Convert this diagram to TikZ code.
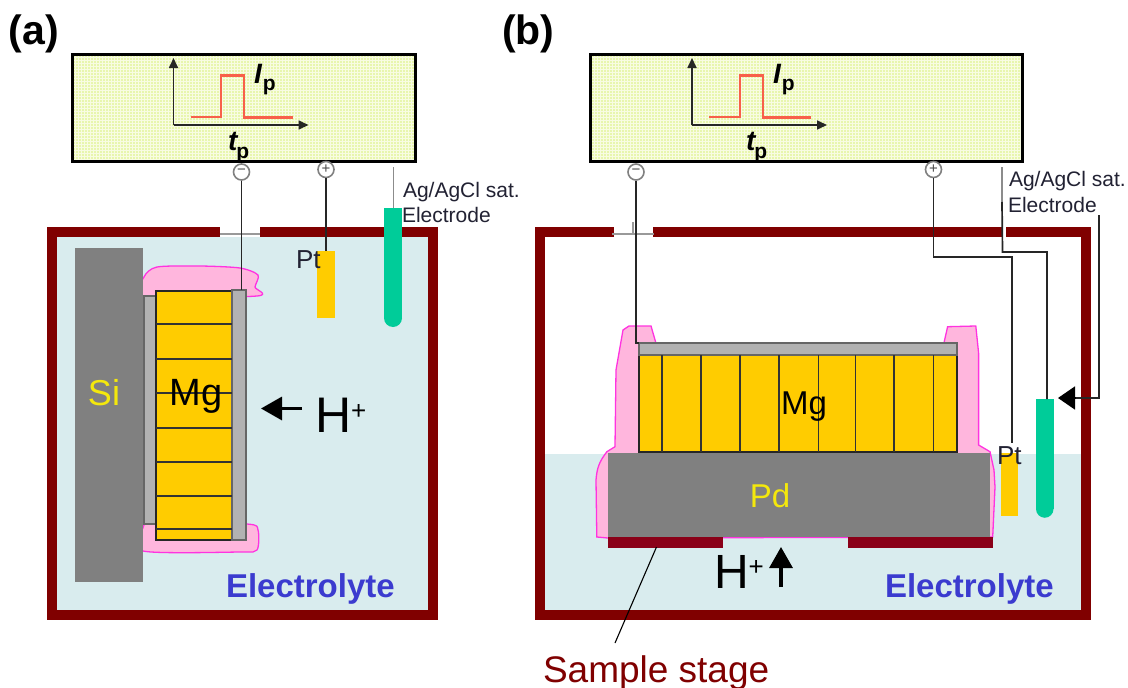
\documentclass[tikz,border=0pt]{standalone}
\usepackage{fontspec}
\setmainfont{Liberation Sans}
\usetikzlibrary{arrows.meta,calc}
\definecolor{frame}{HTML}{800000}
\definecolor{stagec}{HTML}{8A0018}
\definecolor{liquid}{HTML}{D9ECEE}
\definecolor{panel}{HTML}{E8F6AE}
\definecolor{mesh}{HTML}{F8FCE2}
\definecolor{gold}{HTML}{FFCC00}
\definecolor{greenc}{HTML}{00CC99}
\definecolor{solid}{HTML}{808080}
\definecolor{layer}{HTML}{B2B2B2}
\definecolor{pinkf}{HTML}{FFB6DD}
\definecolor{pinkl}{HTML}{FF33E0}
\definecolor{pulse}{HTML}{F8604A}
\definecolor{elec}{HTML}{3B3BCF}
\definecolor{ink}{HTML}{222233}
\newcommand\fsz[1]{\fontsize{#1}{#1}\selectfont}
\newcommand\rectnode[6]{%
  \pgfmathsetmacro\wdd{#5-#3}\pgfmathsetmacro\htt{#6-#4}%
  \node[#1,inner sep=0pt,outer sep=0pt,minimum width=\wdd pt,minimum height=\htt pt,anchor=north west] (#2) at (#3,#4) {};}
\tikzset{
  vessel/.style={draw=frame,line width=10pt,line join=miter,line cap=butt},
  liquidbox/.style={fill=liquid},
  panelbox/.style={fill=panel},
  panelrim/.style={draw=black,line width=3.4pt},
  meshgrid/.style={mesh,line width=0.7pt},
  solidbox/.style={fill=solid},
  greylayer/.style={fill=layer,draw=black!60,line width=1.2pt},
  mgbox/.style={fill=gold,draw=black!85,line width=1.3pt},
  goldbox/.style={fill=gold},
  greenbox/.style={fill=greenc},
  stagebox/.style={fill=stagec},
  seal/.style={fill=pinkf,draw=pinkl,line width=1.3pt},
  sep/.style={black!80,line width=1.6pt},
  wire/.style={black!85,line width=1.7pt},
  greywire/.style={black!45,line width=1.8pt},
  gapline/.style={black!40,line width=1.8pt},
  axis/.style={black!85,line width=1.7pt,-{Triangle[width=9pt,length=10pt]}},
  pulseline/.style={pulse,line width=2.1pt},
  terminal/.style={circle,draw=black!50,fill=white,line width=1.6pt,inner sep=0pt,minimum size=16pt,text=black!70,font=\fsz{15}},
  bigarrow/.style={black,line width=3.2pt,-{Triangle[width=23pt,length=21pt]}},
  txt/.style={inner sep=0pt,outer sep=0pt,anchor=base west},
  txtc/.style={inner sep=0pt,outer sep=0pt,anchor=base},
}
\newcommand\hplus{H\raisebox{13pt}{\fsz{26}+}}
\newcommand\Ip{\fsz{28}\bfseries\itshape I\kern1pt\raisebox{-7pt}{\fsz{21}\upshape p}}
\newcommand\tp{\fsz{28}\bfseries\itshape t\kern-1pt\raisebox{-8pt}{\fsz{21}\upshape p}}
\begin{document}
\begin{tikzpicture}[x=1pt,y=-1pt]
\useasboundingbox (0,0) rectangle (1128,688);
\fill[white] (0,0) rectangle (1128,688);
% ---------- (a)
\node[txt,font=\fsz{41}\bfseries] (la) at (9,45) {(a)};
\rectnode{panelbox}{pa}{72.5}{54.5}{415.5}{161.5}
\draw[meshgrid,step=3pt] (pa.north west) grid (pa.south east);
\draw[panelrim] (pa.north west) rectangle (pa.south east);
\node[terminal] (tma) at (241.5,172) {−};
\node[terminal] (tpa) at (326,169.5) {+};
\coordinate (axa) at (173.5,125);
\draw[axis] (axa) -- ++(0,-67);
\draw[axis] (axa) -- ++(135,0);
\draw[pulseline] (191,117) -- (221,117) -- (221,75.5) -- (244,75.5) -- (244,117.5) -- (293,117.5);
\node[txt] (ipa) at (254,83) {\Ip};
\node[txt] (tpla) at (228,150) {\tp};
% vessel a
\rectnode{liquidbox}{liqa}{57}{237}{428}{610}
\draw[vessel] (220,232) -- (52,232) -- (52,614.5) -- (433,614.5) -- (433,232) -- (260,232);
\draw[gapline] (220,234) -- (260,234);
\draw[seal] plot[smooth cycle,tension=0.45] coordinates {(143,297) (144,277) (157,267) (200,266) (240,268) (258,275) (255,287) (257,296)};
\draw[seal] plot[smooth cycle,tension=0.45] coordinates {(143,551) (143,528) (155,522) (247,524) (258,530) (257,550) (240,552)};
\rectnode{solidbox}{sia}{75}{248}{143}{581.5}
\rectnode{greylayer}{gla}{144}{296}{156}{524}
\rectnode{mgbox}{mga}{156}{291}{232}{540}
\rectnode{greylayer}{gra}{232}{290}{246}{540}
\foreach \yy in {324,359,393,428,462,496,529}
  \draw[sep] (mga.west |- 0,\yy) -- (mga.east |- 0,\yy);
\node[txtc,font=\fsz{36},text=yellow!95!black] (sil) at (104,405) {Si};
\node[txtc,font=\fsz{38},text=black] (mgla) at (196,405) {Mg};
\rectnode{goldbox}{pta}{317}{251}{334.5}{318}
\rectnode{greenbox}{ga}{384}{208}{402}{318}
\fill[greenc] (ga.south west) arc[start angle=180,end angle=360,radius=9pt];
\node[txt,font=\fsz{26},text=ink] (ptla) at (296,268) {Pt};
\draw[wire] (tma.south) -- (tma.south |- gra.north);
\draw[wire] (tpa.south) -- (tpa.south |- pta.north);
\coordinate (aga) at (393.5,167);
\draw[greywire] (aga) -- (ga.north -| aga);
\node[txt,font=\fsz{21},text=ink] (agta) at (403,197) {Ag/AgCl sat.};
\node[txt,font=\fsz{21},text=ink] (agtb) at (402,222.5) {Electrode};
\node[txt,font=\fsz{50}] (hpa) at (315,432) {\hplus};
\coordinate (haa) at (302,408.5);
\draw[bigarrow] (haa) -- (261,408.5);
\node[txt,font=\fsz{33}\bfseries,text=elec] (ela) at (226,597) {Electrolyte};
% ---------- (b)
\node[txt,font=\fsz{41}\bfseries] (lb) at (502,45) {(b)};
\rectnode{panelbox}{pb}{590.5}{54.5}{1022.5}{161.5}
\draw[meshgrid,step=3pt] (pb.north west) grid (pb.south east);
\draw[panelrim] (pb.north west) rectangle (pb.south east);
\node[terminal] (tmb) at (636,172) {−};
\node[terminal] (tpb) at (933.5,169.5) {+};
\coordinate (axb) at (692,125);
\draw[axis] (axb) -- ++(0,-67);
\draw[axis] (axb) -- ++(135,0);
\draw[pulseline] (709,117) -- (740,117) -- (740,75.5) -- (763,75.5) -- (763,117.5) -- (811,117.5);
\node[txt] (ipb) at (773,83) {\Ip};
\node[txt] (tplb) at (746,150) {\tp};
% vessel b
\rectnode{liquidbox}{liqb}{545}{454}{1081}{610}
\draw[vessel] (614,232) -- (540,232) -- (540,614.5) -- (1086,614.5) -- (1086,232) -- (1006,232);
\draw[vessel] (653,232) -- (1002,232);
\draw[gapline] (612,234) -- (654,234);
\draw[gapline] (633,222) -- (633,234);
\draw[seal] (607.7,538) -- (596.8,537) -- (596,480) .. controls (597,468) and (599,462) .. (606.9,451.7) -- (615,446.7) -- (616,370) -- (623,330) -- (629,326) -- (651,326) -- (656.5,345) -- (943.5,345) -- (947.6,326.7) -- (975.8,326) -- (978.6,353) -- (978.6,445) -- (990,451.7) -- (994,470) -- (995,487) -- (992.7,537) -- cycle;
\rectnode{solidbox}{pdb}{608}{453}{990}{537}
\rectnode{mgbox}{mgb}{639}{355}{957}{452}
\rectnode{greylayer}{grb}{639}{343}{957}{355}
\foreach \xx in {662,701,740,779,818.5,855.6,894,933.5}
  \draw[sep] (\xx,0 |- mgb.north) -- (\xx,0 |- mgb.south);
\rectnode{stagebox}{stl}{608}{537}{723}{548}
\rectnode{stagebox}{str}{847.5}{537}{992.5}{548}
\node[txtc,font=\fsz{33},text=black] (mglb) at (804,414) {Mg};
\node[txtc,font=\fsz{33},text=yellow!95!black] (pdl) at (770,507) {Pd};
\rectnode{goldbox}{ptb}{1001}{453}{1018}{516}
\rectnode{greenbox}{gb}{1036}{399}{1053.5}{509}
\fill[greenc] (gb.south west) arc[start angle=180,end angle=360,radius=8.75pt];
\node[txt,font=\fsz{26},text=ink] (ptlb) at (997,464) {Pt};
\draw[wire] (tmb.south) |- (grb.north west);
\coordinate (ptwb) at (1012,443);
\draw[wire] (tpb.south) |- (1012,257) -- (ptwb);
\coordinate (agb) at (1002,167);
\coordinate (agc) at (1002,202);
\draw[greywire] (agb) -- (agc);
\draw[wire] (agc) -- (1002.5,252) -- (1047,252) -- (1047,0 |- gb.north);
\node[txt,font=\fsz{21},text=ink] (agtc) at (1009,186.7) {Ag/AgCl sat.};
\node[txt,font=\fsz{21},text=ink] (agtd) at (1008,212.7) {Electrode};
\coordinate (eleb) at (1099,215);
\draw[wire] (eleb) -- (1099,398) -- (1075,398);
\draw[black,line width=1.7pt,-{Triangle[width=23pt,length=17pt]}] (1076,398) -- (1058,398);
\node[txt,font=\fsz{48}] (hpb) at (714,588) {\hplus};
\coordinate (hab) at (781,587);
\draw[bigarrow] (hab) -- (781,547);
\node[txt,font=\fsz{33}\bfseries,text=elec] (elb) at (885,597) {Electrolyte};
\node[txt,font=\fsz{37},text=frame] (ssl) at (543,682) {Sample stage};
\coordinate (lead) at (615,643);
\draw[black,line width=1.1pt] (lead) -- (656.5,547);
\end{tikzpicture}
\end{document}
